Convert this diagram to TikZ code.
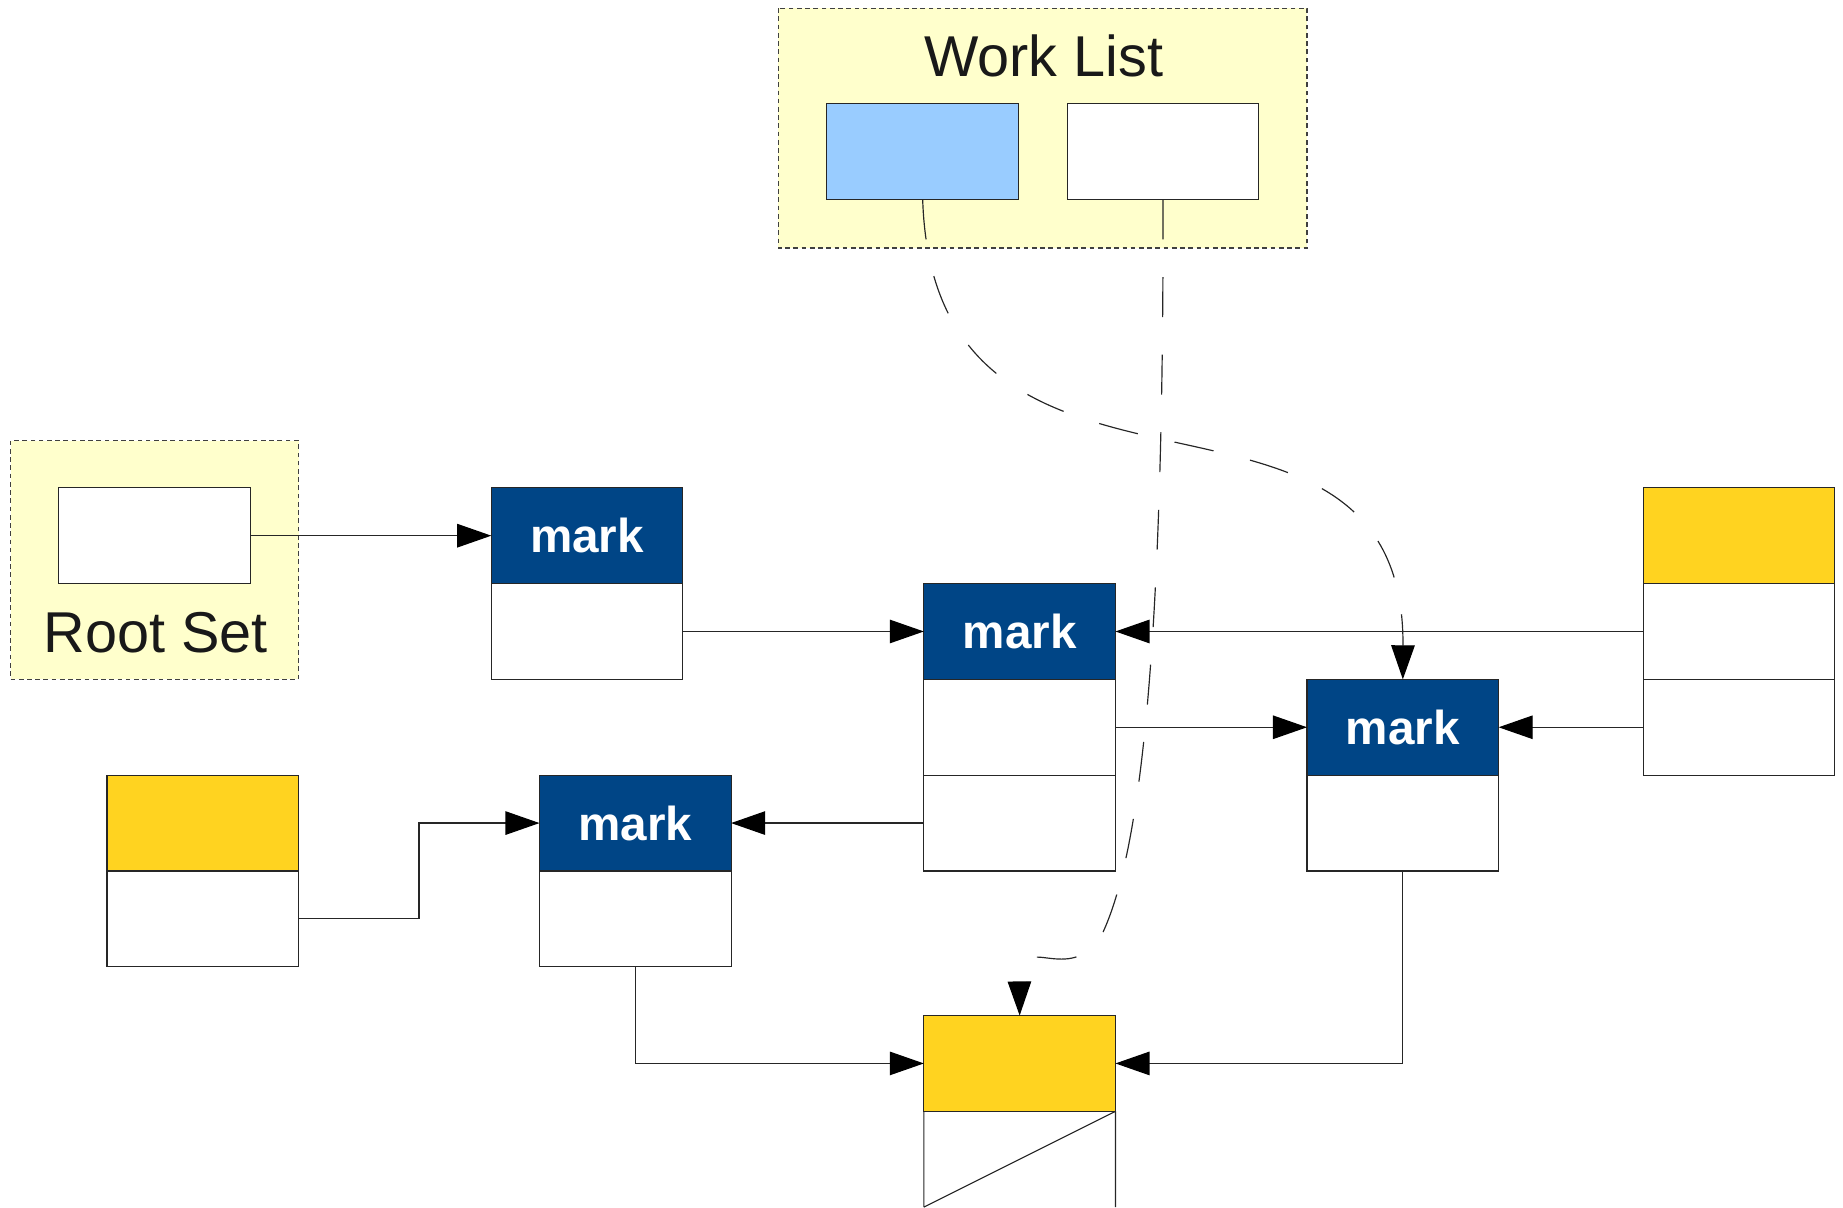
\documentclass[tikz,border=0pt]{standalone}
\usepackage{fontspec}
\setmainfont{Liberation Sans}
\usetikzlibrary{positioning,arrows.meta}
\definecolor{panelyellow}{HTML}{FFFFCC}
\definecolor{greyblue}{HTML}{99CCFF}
\definecolor{markblue}{HTML}{004586}
\definecolor{freegold}{HTML}{FFD320}

\begin{document}
\begin{tikzpicture}[x=0.5pt,y=-0.5pt,
  cell/.style={draw=black!85,fill=white,line width=0.5pt,minimum width=81.5pt,
    minimum height=40.75pt,inner sep=0pt,outer sep=0pt},
  markcell/.style={cell,fill=markblue,text=white,
    font=\bfseries\fontsize{20.25pt}{24pt}\selectfont},
  freecell/.style={cell,fill=freegold},
  panel/.style={draw=black!75,fill=panelyellow,line width=0.5pt,dash pattern=on 2pt off 1.5pt},
  ptr/.style={draw=black!85,line width=0.5pt,-{Triangle[length=14.5pt,width=10pt,color=black]}},
  scan/.style={ptr,dash pattern=on 17pt off 16pt},
  title/.style={font=\fontsize{24.5pt}{29pt}\selectfont,text=black!90,anchor=base,inner sep=0pt}]
  \useasboundingbox (0,0) rectangle (1568,1027);

  % panels
  \draw[panel] (662,7) rectangle (1112,211);
  \draw[panel] (9,375) rectangle (254,578);
  \node[title] (wlTitle) at (888,65.5) {Work List};
  \node[title] (rsTitle) at (132.5,555) {Root Set};

  % work list and root set entries
  \node[cell,fill=greyblue] (wlGrey) at (785,129) {};
  \node[cell] (wlWhite) at (989.5,129) {};
  \node[cell] (rootPtr) at (131.5,455.75) {};

  % heap objects
  \node[markcell] (aHead) at (499.5,455.75) {mark};
  \node[cell,below=0pt of aHead] (aBody) {};
  \node[markcell] (bHead) at (867.5,537.25) {mark};
  \node[cell,below=0pt of bHead] (bRow1) {};
  \node[cell,below=0pt of bRow1] (bRow2) {};
  \node[markcell] (cHead) at (1193.5,618.75) {mark};
  \node[cell,below=0pt of cHead] (cBody) {};
  \node[freecell] (dHead) at (1479.5,455.75) {};
  \node[cell,below=0pt of dHead] (dRow1) {};
  \node[cell,below=0pt of dRow1] (dRow2) {};
  \node[freecell] (eHead) at (172.5,700.25) {};
  \node[cell,below=0pt of eHead] (eBody) {};
  \node[markcell] (fHead) at (540.5,700.25) {mark};
  \node[cell,below=0pt of fHead] (fBody) {};
  \node[freecell] (gHead) at (867.5,904.75) {};
  \node[cell,draw=none,fill=none,below=0pt of gHead] (gBody) {};
  \draw[black!85,line width=0.5pt] (gBody.south west) -- (gBody.north west)
    (gBody.north east) -- (gBody.south east) (gBody.north east) -- (gBody.south west);

  % pointers
  \draw[ptr] (rootPtr.east) -- (aHead.west);
  \draw[ptr] (aBody.east) -- (bHead.west);
  \draw[ptr] (dRow1.west) -- (bHead.east);
  \draw[ptr] (bRow1.east) -- (cHead.west);
  \draw[ptr] (dRow2.west) -- (cHead.east);
  \draw[ptr] (bRow2.west) -- (fHead.east);
  \draw[ptr] (eBody.east) -- ++(102.5,0) |- (fHead.west);
  \draw[ptr] (fBody.south) |- (gHead.west);
  \draw[ptr] (cBody.south) |- (gHead.east);

  % work list references
  \draw[scan] (wlGrey.south) .. controls (795,480) and (1195,280) .. (cHead.north);
  \draw[scan] (wlWhite.south) .. controls (990,540) and (972,730) .. (935,800)
    .. controls (905,838) and (867,790) .. (gHead.north);
\end{tikzpicture}
\end{document}
